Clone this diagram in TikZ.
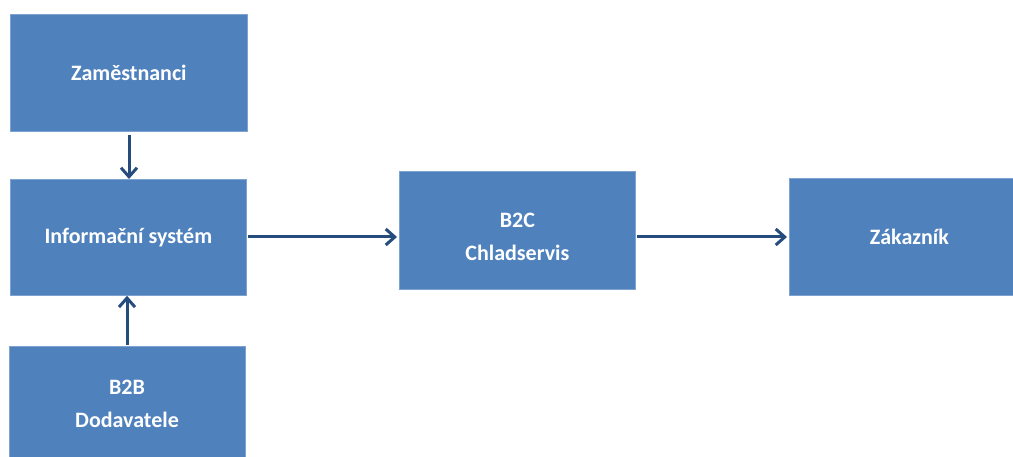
\documentclass[tikz,border=0pt]{standalone}
\usepackage{fontspec}
\setmainfont{Carlito}
\usetikzlibrary{arrows.meta}
\definecolor{boxblue}{HTML}{4F81BD}
\definecolor{boxedge}{HTML}{7FA3D1}
\definecolor{arrowblue}{HTML}{264C7E}
\begin{document}
\begin{tikzpicture}[x=1pt,y=-1pt,
  box/.style={draw=boxedge,line width=0.8pt,fill=boxblue,text=white,font=\fontsize{22}{33}\selectfont\bfseries,align=center,anchor=north west,inner sep=0pt},
  txt/.style={text=white,font=\fontsize{22}{33}\selectfont\bfseries,align=center,inner sep=0pt},
  conn/.style={draw=arrowblue,line width=3pt,-{Straight Barb[length=9pt,width=16pt,line width=3pt]}}]
\useasboundingbox (0,0) rectangle (1013,457);
\node[box,minimum width=237pt,minimum height=117pt] (zam) at (10,14) {Zaměstnanci};
\node[box,minimum width=236pt,minimum height=116pt] (is) at (10,179) {Informační systém};
\node[box,minimum width=236pt,minimum height=124pt] (b2b) at (9,346) {};
\node[txt] (b2bt) at (127,404) {B2B\\Dodavatele};
\node[box,minimum width=236pt,minimum height=118pt] (b2c) at (399,171) {};
\node[txt] (b2ct) at ([yshift=-6pt]b2c.center) {B2C\\Chladservis};
\node[box,minimum width=240pt,minimum height=117pt] (zak) at (789,178) {Zákazník};
\coordinate (isr) at (248,237);
\coordinate (b2cl) at (397,237);
\coordinate (b2cr) at (637,237);
\coordinate (zakl) at (787,237);
\draw[conn] (zam.south -| 129,0) ++(0,3) -- (is.north -| 129,0);
\draw[conn] (b2b.north -| 127,0) ++(0,-1) -- (is.south -| 127,0);
\draw[conn] (isr) -- (b2cl);
\draw[conn] (b2cr) -- (zakl);
\end{tikzpicture}
\end{document}
